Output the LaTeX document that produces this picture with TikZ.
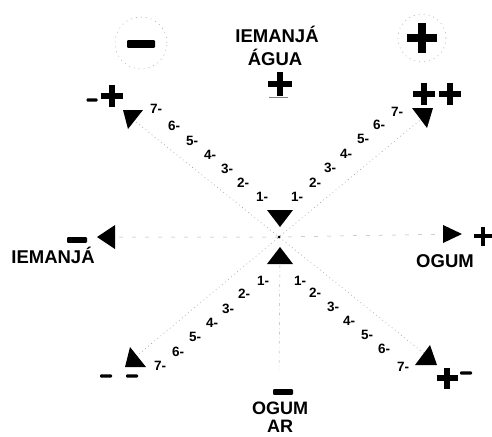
\documentclass[tikz,border=0pt]{standalone}
\usepackage{fontspec}
\setmainfont{Liberation Sans}
\usetikzlibrary{backgrounds}

\tikzset{
  lbl/.style={font=\bfseries\fontsize{18.5}{18.5}\selectfont, inner sep=0pt, anchor=base},
  num/.style={font=\bfseries\fontsize{13.5}{13.5}\selectfont, inner sep=0pt},
  diag/.style={draw=gray!75, dash pattern=on 0.8pt off 3.2pt, line width=0.6pt},
  axis/.style={draw=gray!60, dash pattern=on 4pt off 9pt, line width=0.5pt},
  ring/.style={draw=gray!60, dash pattern=on 1pt off 4pt, line width=0.6pt},
  pics/plussign/.style={code={\draw[line width=#1*0.25pt] (-#1/2,0) -- (#1/2,0) (0,-#1/2) -- (0,#1/2);}},
  pics/minussign/.style={code={\fill[rounded corners=1pt] (-#1/2,-#1*0.14) rectangle (#1/2,#1*0.14);}},
  % triangle pointing down (or up for a negative height), apex shifted sideways
  pics/vtri/.style args={#1/#2/#3}{code={\fill (-#1/2,-#2/2) -- (#1/2,-#2/2) -- (#3,#2/2) -- cycle;}},
  % triangle pointing right (or left for a negative height)
  pics/htri/.style args={#1/#2}{code={\fill (-#2/2,-#1/2) -- (-#2/2,#1/2) -- (#2/2,0) -- cycle;}}
}

\begin{document}
\begin{tikzpicture}[x=1pt,y=-1pt]
  \useasboundingbox (0,0) rectangle (492,436);

  % the two circles at the top
  \draw[ring] (141,43) circle[radius=26pt];
  \draw[ring] (422,38) circle[radius=24pt];
  \pic at (141,44) {minussign=28};
  \pic at (422,38) {plussign=30};

  % labels
  \node[lbl] (iemtop) at (277,42) {IEMANJÁ};
  \node[lbl] (agua) at (275,65) {ÁGUA};
  \pic at (280,84) {plussign=24};
  \draw[gray, line width=0.6pt] (269,97) -- (288,97);
  \node[lbl] (iemleft) at (53,263) {IEMANJÁ};
  \pic at (77,240) {minussign=20};
  \node[lbl] (ogumright) at (445,267) {OGUM};
  \pic at (483,236) {plussign=19};
  \node[lbl, font=\bfseries\fontsize{18}{18}\selectfont] (ogumbot) at (280,414) {OGUM};
  \node[lbl, font=\bfseries\fontsize{18}{18}\selectfont] (ar) at (280,432) {AR};
  \pic at (283,392) {minussign=20};

  % signs at the corners
  \pic at (92,100) {minussign=11};
  \pic at (112,96) {plussign=22};
  \pic at (424,94) {plussign=22};
  \pic at (450,94) {plussign=22};
  \pic at (106,376) {minussign=12};
  \pic at (132,376) {minussign=12};
  \pic at (447,378) {plussign=21};
  \pic at (466,373) {minussign=12};

  % triangles
  \coordinate (o) at (279,237);
  \coordinate (bot) at (279,370);
  \coordinate (ul) at (133,119.5);
  \coordinate (ur) at (422.5,118);
  \coordinate (bl) at (135.5,357);
  \coordinate (br) at (426,355);
  \coordinate (cd) at (280,218.5);
  \coordinate (cu) at (280,255.5);
  \coordinate (lt) at (106,237);
  \coordinate (rt) at (452.5,234);
  \pic at (ul) {vtri=20/19/-5};
  \pic at (ur) {vtri=21/20/4.5};
  \pic at (bl) {vtri=21/-20/-5.5};
  \pic at (br) {vtri=22/-20/4};
  \pic at (cd) {vtri=26/17/0};
  \pic at (cu) {vtri=26/-17/0};
  \pic at (lt) {htri=24/-18};
  \pic at (rt) {htri=18/19};
  \fill (o) circle[radius=1.5pt];

  \begin{scope}[on background layer]
    \draw[diag] (ul) -- (o) -- (br);
    \draw[diag] (ur) -- (o) -- (bl);
    \draw[axis] (lt) -- (o) -- (rt);
    \draw[axis, dash pattern=on 3pt off 3pt on 0.5pt off 3pt] (cu) -- (bot);
  \end{scope}

  % steps along the diagonals
  \foreach \n/\x/\y in {1/262/197, 2/243/183, 3/227/169, 4/210/155, 5/192/141, 6/174/126, 7/156/109}
    \node[num] (ula\n) at (\x,\y) {\n-};
  \foreach \n/\x/\y in {1/297/197, 2/315/183, 3/330/168, 4/346/154, 5/363/139, 6/379/125, 7/397/112}
    \node[num] (ura\n) at (\x,\y) {\n-};
  \foreach \n/\x/\y in {1/263/281, 2/244/294, 3/228/309, 4/212/323, 5/195/337, 6/178/352, 7/160/366}
    \node[num] (bla\n) at (\x,\y) {\n-};
  \foreach \n/\x/\y in {1/300/281, 2/315/293, 3/333/307, 4/349/321, 5/367/335, 6/384/349, 7/403/367}
    \node[num] (bra\n) at (\x,\y) {\n-};
\end{tikzpicture}
\end{document}
